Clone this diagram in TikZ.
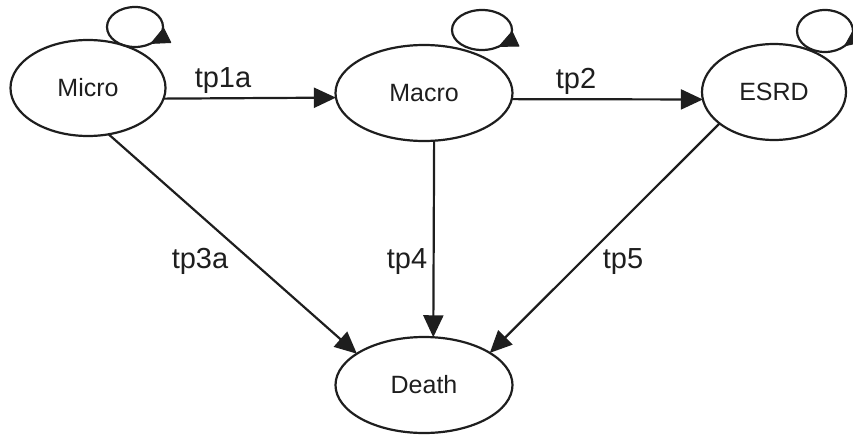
\documentclass[tikz,border=0pt]{standalone}
\usepackage{fontspec}
\setmainfont{Liberation Sans}
\usetikzlibrary{shapes.geometric,arrows.meta}
\begin{document}
\begin{tikzpicture}[x=1pt,y=1pt,
  state/.style={ellipse,draw=ink,line width=2.2pt,inner sep=0pt,outer sep=0pt,
    minimum height=96pt,font=\fontsize{25}{29}\selectfont,text=ink},
  arr/.style={draw=ink,line width=2.2pt,-{Triangle[length=22pt,width=20pt]}},
  loopline/.style={draw=ink,line width=2.2pt},
  looptip/.style={fill=ink,draw=ink,line width=1pt,line join=round},
  lbl/.style={anchor=base,inner sep=0pt,font=\fontsize{29}{33}\selectfont,text=ink}]
\definecolor{ink}{HTML}{1E1E1E}
\useasboundingbox (0,0) rectangle (853,-436);
% states
\node[state,minimum width=155pt] (micro) at (88,-88) {Micro};
\node[state,minimum width=177pt] (macro) at (424,-93) {Macro};
\node[state,minimum width=144pt] (esrd) at (774,-92) {ESRD};
\node[state,minimum width=177pt] (death) at (424,-385) {Death};
% self-loops
\coordinate (lmicro) at (135,-27);
\coordinate (lmacro) at (482,-30);
\coordinate (lesrd) at (825,-31);
\draw[loopline] (lmicro) ellipse[x radius=28,y radius=20];
\draw[loopline] (lmacro) ellipse[x radius=30,y radius=20];
\draw[loopline] (lesrd) ellipse[x radius=28,y radius=21];
\coordinate (tmicro) at (151.1,-43.4);
\coordinate (tmacro) at (499.2,-46.4);
\coordinate (tesrd) at (844.8,-45.8);
\path[looptip] (tmicro) -- ++(19.7,0.9) -- ++(-7.2,14.3) -- cycle;
\path[looptip] (tmacro) -- ++(19.7,0.35) -- ++(-6.8,14.5) -- cycle;
\path[looptip] (tesrd) -- ++(19.2,4.4) -- ++(-9.6,12.8) -- cycle;
% transitions
\draw[arr] (micro.-8) -- (macro.183);
\draw[arr] (macro.-4) -- (esrd.186);
\draw[arr] (micro.-66) -- (death.155);
\draw[arr] (macro.-78) -- (death.79);
\draw[arr] (esrd.210) -- (death.26);
% labels
\node[lbl] (l1) at (223,-87) {tp1a};
\node[lbl] (l2) at (576,-88) {tp2};
\node[lbl] (l3) at (200,-268) {tp3a};
\node[lbl] (l4) at (407,-268) {tp4};
\node[lbl] (l5) at (623,-268) {tp5};
\end{tikzpicture}
\end{document}
